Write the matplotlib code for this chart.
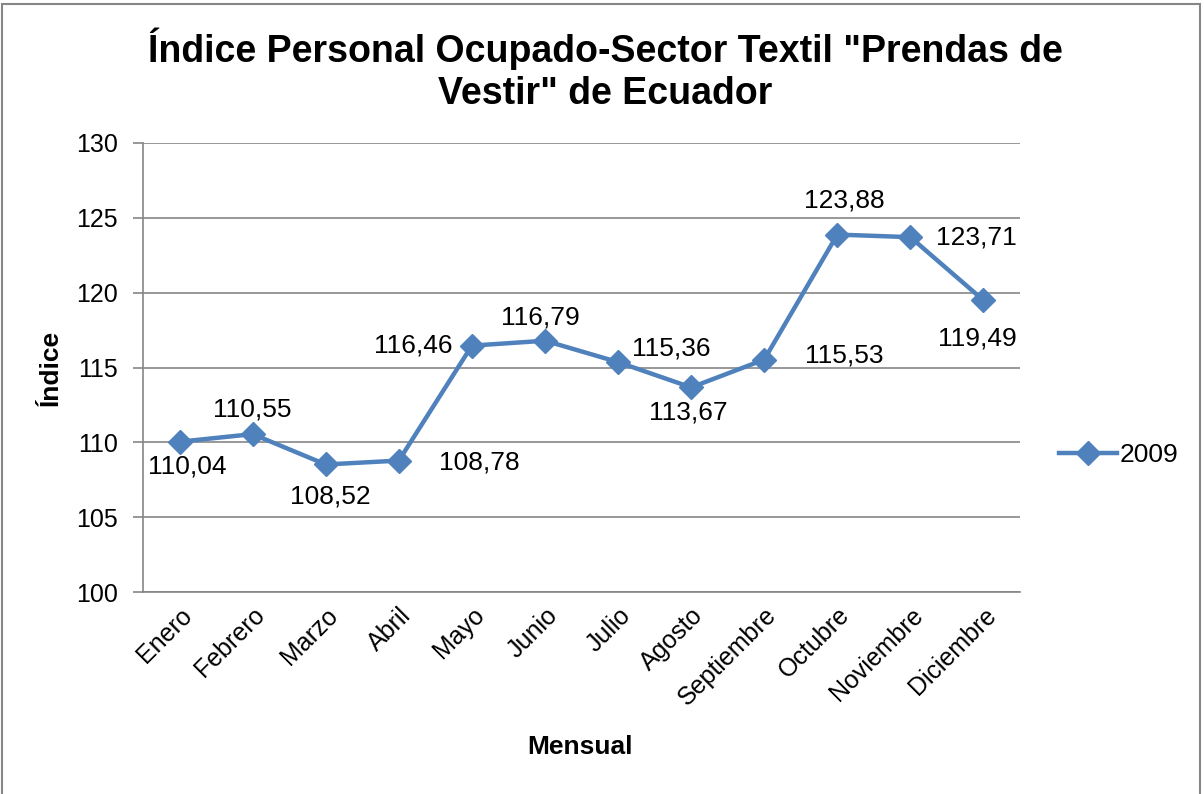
import matplotlib.pyplot as plt
from matplotlib.patches import Rectangle

# Datos
meses = ["Enero", "Febrero", "Marzo", "Abril", "Mayo", "Junio", "Julio",
         "Agosto", "Septiembre", "Octubre", "Noviembre", "Diciembre"]
indice_2009 = [110.04, 110.55, 108.52, 108.78, 116.46, 116.79, 115.36,
               113.67, 115.53, 123.88, 123.71, 119.49]
y_ticks = [100, 105, 110, 115, 120, 125, 130]

# desplazamiento de cada etiqueta (pixeles)
offsets = [(8, -25), (0, 25), (5, -32), (80, -2), (-59, 0), (-5, 23),
           (53, 14), (-3, -25), (80, 4), (7, 34), (66, 0), (-6, -38)]

plt.rcParams["font.family"] = ["Liberation Sans", "DejaVu Sans"]
azul = "#4F81BD"
gris = "#868686"

fig = plt.figure(figsize=(12.04, 7.94), dpi=100)
ax = fig.add_axes([0.1188, 0.2544, 0.7284, 0.5655])

x = list(range(len(meses)))
ax.plot(x, indice_2009, color=azul, linewidth=3.2, marker="D",
        markersize=12, label="2009")

for i, v in enumerate(indice_2009):
    ax.annotate(f"{v:.2f}".replace(".", ","), (i, v), xytext=offsets[i],
                textcoords="offset pixels", ha="center", va="center",
                fontsize=19)

ax.set_xlim(-0.5, len(meses) - 0.5)
ax.set_ylim(100, 130)
ax.set_yticks(y_ticks)
ax.set_xticks(x)
ax.set_xticklabels(meses, rotation=45, ha="right", rotation_mode="anchor")
ax.tick_params(axis="x", length=0, pad=8, labelsize=18)
ax.tick_params(axis="y", length=7, width=1.2, color=gris, pad=11, labelsize=18)
ax.grid(axis="y", color=gris, linewidth=1.2)
ax.set_axisbelow(True)
for s in ["top", "right"]:
    ax.spines[s].set_visible(False)
for s in ["left", "bottom"]:
    ax.spines[s].set_color(gris)
    ax.spines[s].set_linewidth(1.2)

fig.text(0.503, 0.912, 'Índice Personal Ocupado-Sector Textil "Prendas de\nVestir" de Ecuador',
         ha="center", va="center", fontsize=27, fontweight="bold", linespacing=1.2)
fig.text(0.042, 0.537, "Índice", rotation=90, ha="center", va="center",
         fontsize=19, fontweight="bold")
fig.text(0.482, 0.059, "Mensual", ha="center", va="center",
         fontsize=19, fontweight="bold")

fig.legend(loc="center left", bbox_to_anchor=(0.86, 0.427), frameon=False,
           fontsize=19, handlelength=2.2, handletextpad=0.1)

fig.patches.append(Rectangle((0.002, -0.01), 0.995, 1.005, transform=fig.transFigure,
                             fill=False, edgecolor=gris, linewidth=1.5))

fig.savefig("out.png", dpi=100)
